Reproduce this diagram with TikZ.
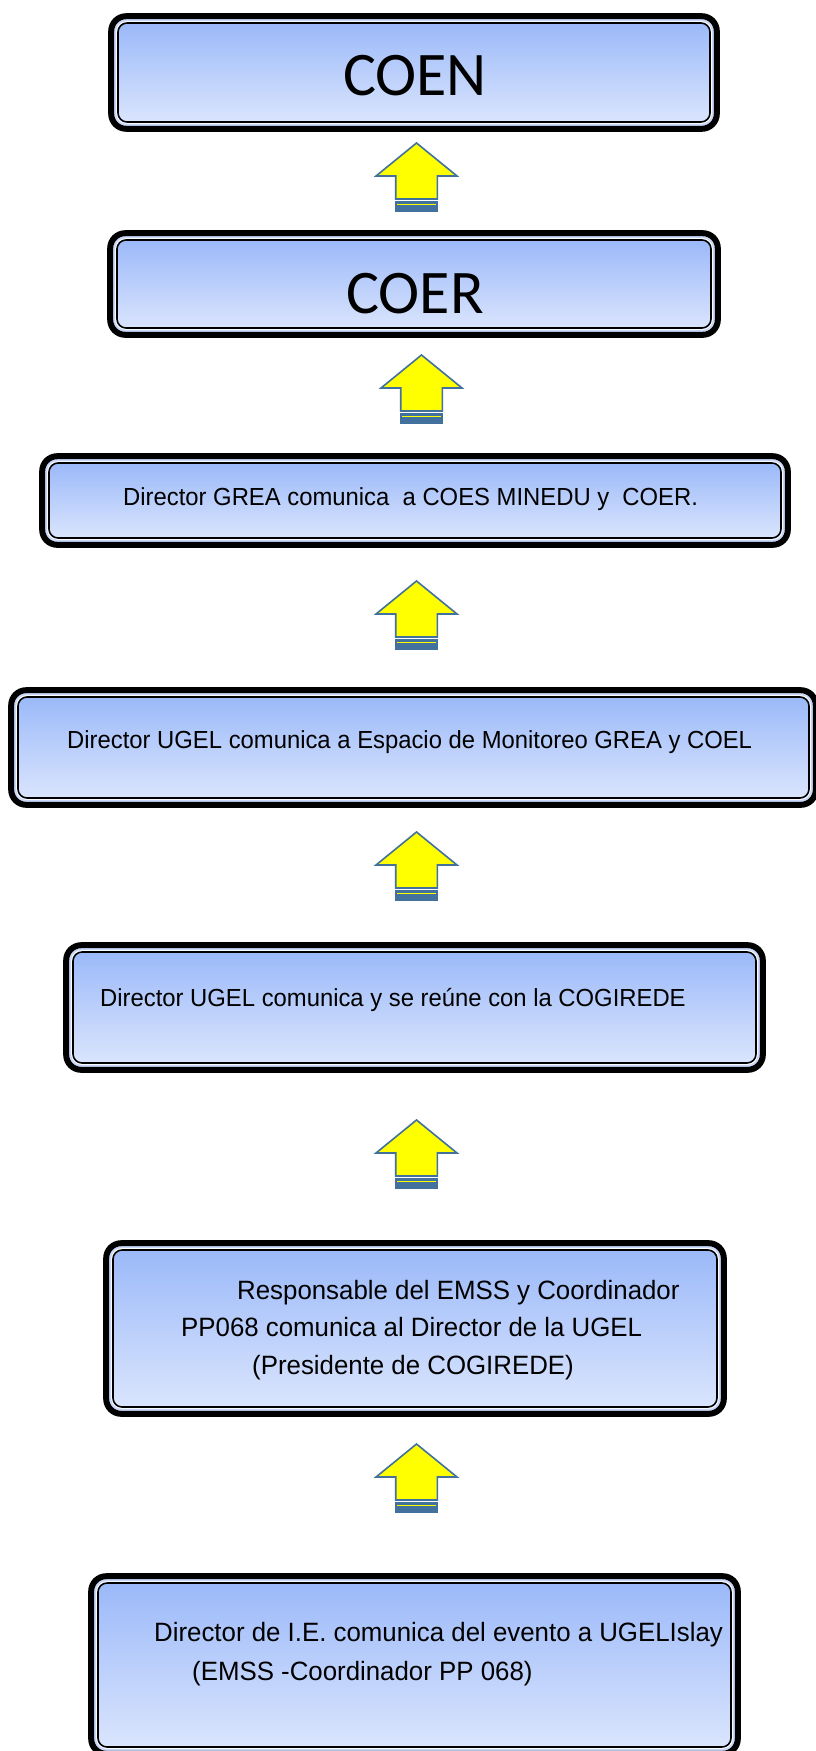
\documentclass[tikz,border=0pt]{standalone}
\usepackage{fontspec}
\setmainfont{Liberation Sans}
\newfontfamily\arialc[FakeStretch=0.965]{Liberation Sans}
\newfontfamily\arialw[FakeStretch=0.975]{Liberation Sans}
\newfontfamily\calib{Carlito}
\usetikzlibrary{calc}
\definecolor{bxtop}{HTML}{9BB9F9}
\definecolor{bxbot}{HTML}{DAE5FD}
\definecolor{ringc}{HTML}{C9D8FA}
\definecolor{arrblue}{HTML}{41719C}
\definecolor{arryel}{HTML}{FFFF00}
\tikzset{
  flowbox/.style={rounded corners=9pt, draw=black, line width=1.6pt, top color=bxtop, bottom color=bxbot, inner sep=0pt},
  boxouter/.style={draw=black, line width=6pt, rounded corners=15pt},
  boxring/.style={draw=ringc, line width=2pt, rounded corners=11pt},
  arrowshape/.style={fill=arryel, draw=arrblue, line width=1.6pt, line join=miter},
  bodytext/.style={font=\arialc\fontsize{24.7}{30}\selectfont, inner sep=0pt, anchor=base west},
  largetext/.style={font=\arialw\fontsize{26.5}{32}\selectfont, inner sep=0pt, anchor=base west},
  bigtext/.style={font=\calib\fontsize{62}{62}\selectfont, inner sep=0pt, text=black},
}
% box: name, x1, y1, x2, y2 (outer edges, pixels)
\newcommand\flowboxat[5]{%
  \node[flowbox, minimum width={#4-#2-18}, minimum height={#5-#3-18}] (#1) at ({(#2+#4)/2},{(#3+#5)/2}) {};
  \draw[boxring] ($(#1.north west)+(-2,-2)$) rectangle ($(#1.south east)+(2,2)$);
  \draw[boxouter] ($(#1.north west)+(-6,-6)$) rectangle ($(#1.south east)+(6,6)$);
}
% block arrow: name, centre x, top y
\newcommand\blockarrow[3]{%
  \coordinate (#1) at (#2,#3);
  \filldraw[arrowshape] (#1) -- ++(40.5,33) -- ++(-19.7,0) -- ++(0,23) -- ++(-41.6,0) -- ++(0,-23) -- ++(-19.7,0) -- cycle;
  \fill[arrblue] ($(#1)+(-21.6,58)$) rectangle ($(#1)+(21.6,69)$);
  \fill[arryel] ($(#1)+(-19.5,60.6)$) rectangle ($(#1)+(19.5,62.2)$);
}
\begin{document}
\begin{tikzpicture}[x=1pt, y=-1pt]
\useasboundingbox (0,0) rectangle (815,1751);
\fill[white] (0,0) rectangle (815,1751);

\flowboxat{b1}{109}{14}{719}{131}
\flowboxat{b2}{108}{231}{720}{337}
\flowboxat{b3}{40}{454}{790}{547}
\flowboxat{b4}{9}{688}{818}{807}
\flowboxat{b5}{64}{943}{765}{1072}
\flowboxat{b6}{104}{1241}{726}{1416}
\flowboxat{b7}{89}{1574}{740}{1756}

\node[bigtext] (t1) at (415,76) {COEN};
\node[bigtext] (t2) at (415,294) {COER};

\node[bodytext] (t3) at (123,505.5) {Director GREA comunica \ a COES MINEDU y \ COER.};
\node[bodytext] (t4) at (67,748) {Director UGEL comunica a Espacio de Monitoreo GREA y COEL};
\node[bodytext] (t5) at (100,1006) {Director UGEL comunica y se reúne con la COGIREDE};
\node[largetext] (t6a) at (237,1299) {Responsable del EMSS y Coordinador};
\node[largetext] (t6b) at (181,1336) {PP068 comunica al Director de la UGEL};
\node[largetext] (t6c) at (252,1374) {(Presidente de COGIREDE)};
\node[largetext] (t7a) at (154,1641.5) {Director de I.E. comunica del evento a UGELIslay};
\node[largetext] (t7b) at (192,1680.5) {(EMSS -Coordinador PP 068)};

\blockarrow{a1}{416.5}{143}
\blockarrow{a2}{421.5}{355}
\blockarrow{a3}{416.5}{581}
\blockarrow{a4}{416.5}{832}
\blockarrow{a5}{416.5}{1120}
\blockarrow{a6}{416.5}{1444}
\end{tikzpicture}
\end{document}
